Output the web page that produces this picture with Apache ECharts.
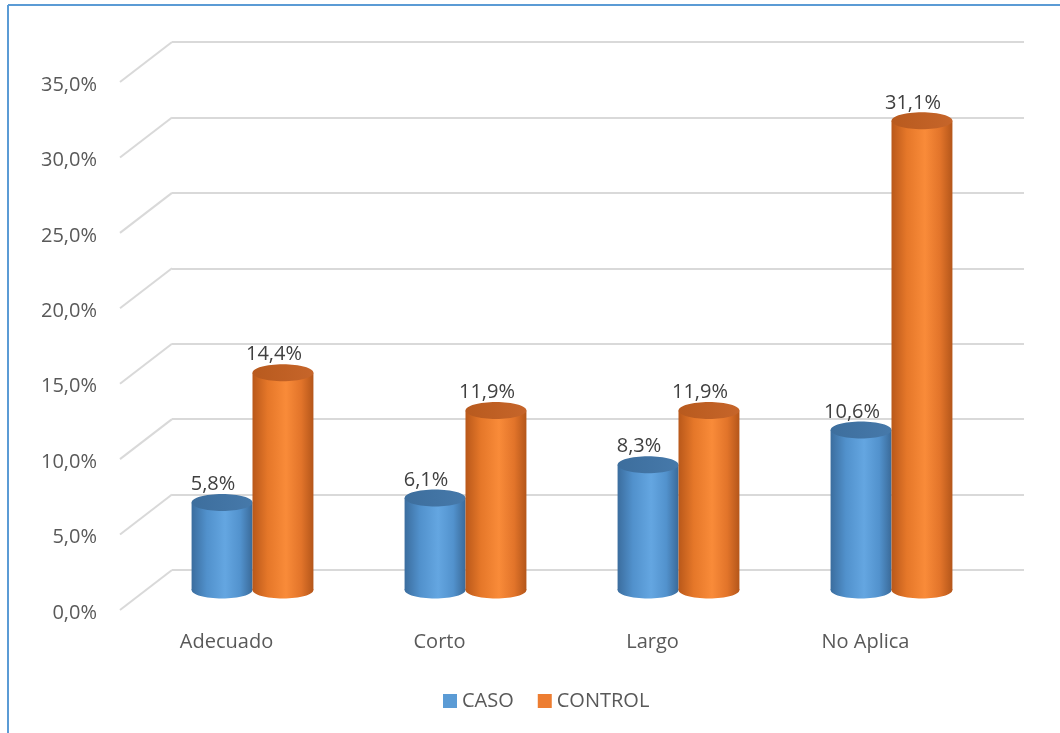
<!DOCTYPE html>
<html>
<head>
<meta charset="utf-8">
<script src="https://cdn.jsdelivr.net/npm/echarts@6/dist/echarts.min.js"></script>
<style>
html,body{margin:0;padding:0;background:#fff;}
#chart{width:1060px;height:733px;}
</style>
</head>
<body>
<div id="chart"></div>
<script>
// ---- data ----
const categories = ['Adecuado', 'Corto', 'Largo', 'No Aplica'];
const seriesNames = ['CASO', 'CONTROL'];
const caso = [5.8, 6.1, 8.3, 10.6];
const control = [14.4, 11.9, 11.9, 31.1];
const yTicks = [0, 5, 10, 15, 20, 25, 30, 35];
const yTickLabels = ['0,0%', '5,0%', '10,0%', '15,0%', '20,0%', '25,0%', '30,0%', '35,0%'];

// ---- layout / style ----
const DEPTH = { x: 52, y: -40 };
const MID = { x: 26, y: -20 };
const FRONT = { left: 120, top: 82, width: 852, height: 528 };
const FONT = '"Open Sans", "Noto Sans", sans-serif';

function fmt(v) { return v.toFixed(1).replace('.', ',') + '%'; }

const styles = [
  {
    legend: '#5B9BD5',
    body: [['0', '#3B6D9E'], ['0.25', '#5191CC'], ['0.55', '#64A6E1'], ['0.8', '#5292CD'], ['1', '#3A6A99']],
    top: [['0', '#3D6E9D'], ['1', '#4679AA']]
  },
  {
    legend: '#ED7D31',
    body: [['0', '#B9581A'], ['0.25', '#E57729'], ['0.55', '#F98B39'], ['0.8', '#E2742A'], ['1', '#B4561A']],
    top: [['0', '#B85A1E'], ['1', '#C6652A']]
  }
];

function grad(stops) {
  return new echarts.graphic.LinearGradient(0, 0, 1, 0,
    stops.map(s => ({ offset: parseFloat(s[0]), color: s[1] })));
}

function cylinderSeries(si, values) {
  return {
    name: seriesNames[si],
    type: 'custom',
    xAxisIndex: 0,
    yAxisIndex: 0,
    itemStyle: { color: styles[si].legend },
    encode: { x: 0, y: 1 },
    data: values.map((v, i) => [i, v]),
    z: 10 + si,
    renderItem: function (params, api) {
      const idx = api.value(0);
      const val = api.value(1);
      const top = api.coord([idx, val]);
      const base = api.coord([idx, 0]);
      const band = api.size([1, 0])[0];
      const w = band * 0.286;
      const sign = si === 0 ? -1 : 1;
      const cx = top[0] + MID.x + sign * w / 2;
      const topY = top[1] + MID.y;
      const baseY = base[1] + MID.y;
      const rx = w / 2, ry = 8.5;
      const st = styles[si];
      return {
        type: 'group',
        children: [
          { type: 'ellipse', shape: { cx: cx, cy: baseY, rx: rx, ry: ry }, style: { fill: grad(st.body) } },
          { type: 'rect', shape: { x: cx - rx, y: topY, width: w, height: baseY - topY }, style: { fill: grad(st.body) } },
          { type: 'ellipse', shape: { cx: cx, cy: topY, rx: rx, ry: ry }, style: { fill: grad(st.top) } },
          {
            type: 'text',
            x: cx - 9, y: topY - 18,
            style: {
              text: fmt(val), fill: '#404040', font: '20px ' + FONT,
              align: 'center', verticalAlign: 'middle'
            }
          }
        ]
      };
    }
  };
}

const chart = echarts.init(document.getElementById('chart'));
chart.setOption({
  animation: false,
  backgroundColor: '#ffffff',
  textStyle: { fontFamily: FONT },
  grid: [
    { left: FRONT.left, top: FRONT.top, width: FRONT.width, height: FRONT.height },
    { left: FRONT.left + DEPTH.x, top: FRONT.top + DEPTH.y, width: FRONT.width, height: FRONT.height }
  ],
  xAxis: [
    {
      type: 'category', gridIndex: 0, data: categories,
      axisLine: { show: false }, axisTick: { show: false },
      axisLabel: { color: '#595959', fontSize: 20, margin: 22, fontFamily: FONT }
    },
    {
      type: 'category', gridIndex: 1, data: categories, show: false
    }
  ],
  yAxis: [
    {
      type: 'value', gridIndex: 0, min: 0, max: 35, interval: 5,
      axisLine: { show: false }, axisTick: { show: false }, splitLine: { show: false },
      axisLabel: {
        color: '#595959', fontSize: 20, margin: 23, fontFamily: FONT,
        formatter: function (v) { const k = yTicks.indexOf(v); return k >= 0 ? '{a|' + yTickLabels[k] + '}' : ''; },
        rich: { a: { color: '#595959', fontSize: 20, fontFamily: FONT, padding: [6, 0, 0, 0] } }
      }
    },
    {
      type: 'value', gridIndex: 1, min: 0, max: 35, interval: 5,
      axisLine: { show: false }, axisTick: { show: false }, axisLabel: { show: false },
      splitLine: { show: true, lineStyle: { color: '#d9d9d9', width: 2 } }
    }
  ],
  legend: {
    data: seriesNames,
    left: 438, top: 686,
    icon: 'rect', itemWidth: 14, itemHeight: 14, itemGap: 24,
    textStyle: { color: '#595959', fontSize: 20, fontFamily: FONT }
  },
  graphic: [
    { type: 'line', shape: { x1: 8, y1: 5, x2: 1060, y2: 5 }, style: { stroke: '#5B9BD5', lineWidth: 2 } },
    { type: 'line', shape: { x1: 8, y1: 5, x2: 8, y2: 733 }, style: { stroke: '#5B9BD5', lineWidth: 2 } }
  ],
  series: [
    {
      type: 'custom',
      xAxisIndex: 0, yAxisIndex: 0,
      silent: true,
      encode: { x: 0, y: 1 },
      data: yTicks.map(v => [0, v]),
      z: 1,
      renderItem: function (params, api) {
        const y = api.coord([0, api.value(1)])[1];
        const x = params.coordSys.x;
        return {
          type: 'line',
          shape: { x1: x, y1: y, x2: x + DEPTH.x, y2: y + DEPTH.y },
          style: { stroke: '#d9d9d9', lineWidth: 2 }
        };
      }
    },
    cylinderSeries(0, caso),
    cylinderSeries(1, control)
  ]
});
</script>
</body>
</html>
